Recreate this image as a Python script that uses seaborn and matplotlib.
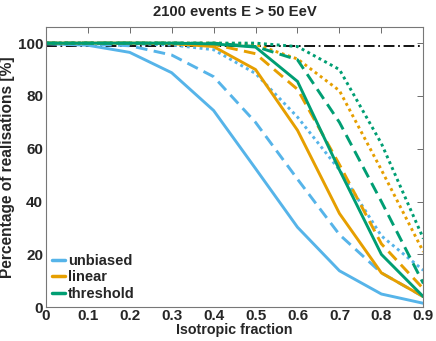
"""
Isotropic fraction vs percentage of realisations, 2100 events above 50 EeV
"""

import numpy as np
import pandas as pd
import matplotlib
matplotlib.use('Agg')
import matplotlib.pyplot as plt
from matplotlib.lines import Line2D
import seaborn as sns

# x values
fraction = [0.0, 0.1, 0.2, 0.3, 0.4, 0.5, 0.6, 0.7, 0.8, 0.9]

# unbiased (light blue)
unbiased_solid = [99.8, 99.2, 96.5, 88.8, 74.5, 52.5, 30.3, 13.8, 5.0, 1.5]
unbiased_dashed = [99.8, 99.7, 99.0, 95.5, 87.3, 70.0, 48.5, 27.5, 13.0, 4.0]
unbiased_dotted = [100, 100, 99.8, 99.3, 97.5, 88.5, 72.0, 52.0, 27.0, 14.0]

# linear (orange)
linear_solid = [100, 100, 100, 99.8, 98.7, 90.0, 67.0, 35.5, 13.0, 4.0]
linear_dashed = [100, 100, 100, 100, 99.5, 96.0, 82.5, 54.0, 24.0, 7.0]
linear_dotted = [100, 100, 100, 100, 100, 99.5, 94.0, 82.0, 52.0, 21.0]

# threshold (green)
threshold_solid = [100, 100, 100, 100, 99.7, 98.5, 85.5, 52.0, 20.0, 4.0]
threshold_dashed = [100, 100, 100, 100, 100, 98.7, 93.7, 70.0, 40.0, 9.0]
threshold_dotted = [100, 100, 100, 100, 100, 100, 98.7, 90.0, 62.0, 26.0]

reference_level = 99.0

models = ['unbiased', 'linear', 'threshold']
variants = ['solid', 'dashed', 'dotted']
series = {
    ('unbiased', 'solid'): unbiased_solid,
    ('unbiased', 'dashed'): unbiased_dashed,
    ('unbiased', 'dotted'): unbiased_dotted,
    ('linear', 'solid'): linear_solid,
    ('linear', 'dashed'): linear_dashed,
    ('linear', 'dotted'): linear_dotted,
    ('threshold', 'solid'): threshold_solid,
    ('threshold', 'dashed'): threshold_dashed,
    ('threshold', 'dotted'): threshold_dotted,
}

rows = []
for (model, variant), values in series.items():
    for x, y in zip(fraction, values):
        rows.append({'fraction': x, 'percent': y, 'model': model, 'variant': variant})
df = pd.DataFrame(rows)

palette = {'unbiased': '#56B4E9', 'linear': '#E69F00', 'threshold': '#009E73'}
dash_map = {'solid': '', 'dashed': (4, 2.2), 'dotted': (1, 1.2)}

sns.set_style('white')
plt.rcParams['font.family'] = ['Liberation Sans', 'DejaVu Sans']
plt.rcParams['font.weight'] = 'bold'
plt.rcParams['axes.labelweight'] = 'bold'
plt.rcParams['axes.titleweight'] = 'bold'

fig = plt.figure(figsize=(4.36, 3.41), dpi=100)
ax = fig.add_axes([0.105, 0.099, 0.866, 0.821])

ax.axhline(reference_level, color='black', linewidth=1.3, linestyle=(0, (6, 2, 1, 2)), zorder=1)

sns.lineplot(
    data=df, x='fraction', y='percent',
    hue='model', style='variant',
    palette=palette, dashes=dash_map,
    hue_order=models, style_order=variants,
    linewidth=2.1, legend=False, ax=ax, zorder=2
)

ax.set_xlim(0, 0.9)
ax.set_ylim(0, 106)
ax.set_xticks(fraction)
ax.set_xticklabels(['0'] + [f'{v:.1f}' for v in fraction[1:]])
ax.set_yticks([0, 20, 40, 60, 80, 100])
ax.tick_params(axis='both', direction='in', length=4, width=0.6, color='#555555',
               labelsize=11, top=True, right=True, pad=2)
ax.tick_params(axis='x', pad=1)
for lab in ax.get_xticklabels() + ax.get_yticklabels():
    lab.set_fontweight('bold')
for spine in ax.spines.values():
    spine.set_color('#777777')
    spine.set_linewidth(0.8)

ax.set_xlabel('Isotropic fraction', fontsize=10.3, labelpad=0)
ax.set_ylabel('Percentage of realisations [%]', fontsize=11.2, labelpad=2)
ax.set_title('2100 events E > 50 EeV', fontsize=10.7, pad=8)

handles = [Line2D([0], [0], color=palette[m], linewidth=2.5) for m in models]
ax.legend(handles, models, loc='lower left', frameon=False,
          handlelength=0.9, handletextpad=0.15, labelspacing=0.15,
          borderaxespad=0.05, prop={'weight': 'bold', 'size': 10.5})

fig.savefig('out.png', dpi=100)
plt.close()
